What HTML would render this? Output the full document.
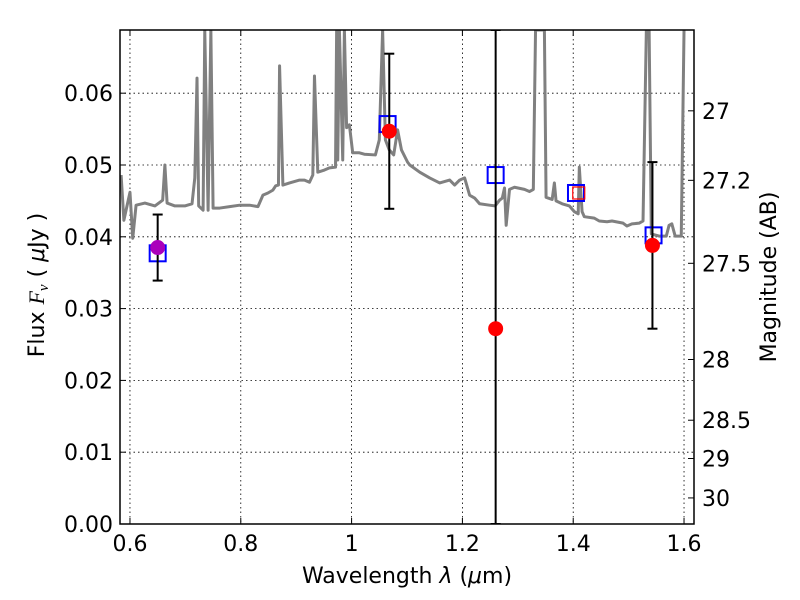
<!DOCTYPE html>
<html><head><meta charset="utf-8"><style>
html,body{margin:0;padding:0;background:#fff;overflow:hidden;width:800px;height:600px}
svg{display:block}
svg text{font-family:"DejaVu Sans","Liberation Sans",sans-serif;fill:#000}
</style></head><body>
<svg id="c" width="800" height="600"></svg>
<script>
const specLam=[0.584,0.589,0.600,0.605,0.611,0.627,0.645,0.659,0.663,0.667,0.681,0.699,0.712,0.717,0.721,0.724,0.732,0.735,0.741,0.746,0.750,0.762,0.780,0.798,0.816,0.831,0.840,0.849,0.858,0.863,0.868,0.870,0.876,0.888,0.906,0.915,0.924,0.930,0.933,0.939,0.951,0.960,0.971,0.973,0.975,0.978,0.984,0.987,0.991,0.996,1.002,1.014,1.023,1.043,1.050,1.056,1.061,1.068,1.076,1.083,1.090,1.101,1.105,1.123,1.141,1.159,1.177,1.186,1.195,1.204,1.213,1.222,1.231,1.249,1.259,1.267,1.272,1.276,1.279,1.285,1.294,1.312,1.321,1.328,1.332,1.348,1.351,1.362,1.366,1.369,1.380,1.393,1.402,1.409,1.411,1.416,1.420,1.438,1.447,1.461,1.470,1.490,1.497,1.506,1.519,1.526,1.532,1.537,1.541,1.555,1.568,1.573,1.578,1.584,1.595,1.600];
const specFlux=[0.0486,0.0423,0.0462,0.0398,0.0444,0.0447,0.0443,0.0451,0.0500,0.0447,0.0443,0.0443,0.0446,0.0482,0.0621,0.0443,0.0437,0.1,0.0437,0.1,0.0440,0.0440,0.0442,0.0444,0.0444,0.0442,0.0458,0.0461,0.0465,0.0471,0.0472,0.0638,0.0472,0.0475,0.0479,0.0479,0.0476,0.0486,0.0624,0.0490,0.0493,0.0496,0.0497,0.1,0.0507,0.1,0.0507,0.1,0.0552,0.0556,0.0517,0.0517,0.0515,0.0514,0.0535,0.1,0.0535,0.0521,0.0514,0.0549,0.0521,0.0504,0.0500,0.0490,0.0482,0.0475,0.0479,0.0472,0.0479,0.0482,0.0458,0.0454,0.0446,0.0444,0.0443,0.0451,0.0454,0.0468,0.0416,0.0466,0.0469,0.0466,0.0463,0.0466,0.1,0.1,0.0455,0.0452,0.0475,0.0450,0.0446,0.0443,0.0435,0.0432,0.0497,0.0435,0.0428,0.0426,0.0422,0.0421,0.0422,0.0419,0.0415,0.0418,0.0419,0.0422,0.1,0.1,0.0404,0.0401,0.0401,0.0416,0.0418,0.0401,0.0401,0.1];
const obsLam=[0.65,1.068,1.26,1.543];
const obsFlux=[0.0385,0.0547,0.0272,0.0388];
const obsErr=[0.0046,0.0108,0.2,0.0116];
const obsColor=['#aa00bb','red','red','red'];
const modLam=[0.65,1.065,1.26,1.405,1.545];
const modFlux=[0.0377,0.0557,0.0486,0.0461,0.0402];
const xTicks=[0.6,0.8,1.0,1.2,1.4,1.6];
const xTickLabels=['0.6','0.8','1','1.2','1.4','1.6'];
const yTicks=[0,0.01,0.02,0.03,0.04,0.05,0.06];
const magTicks=[27,27.2,27.5,28,28.5,29,30];

const L=120,R=694,T=30,B=524;
const xmin=0.582,xmax=1.618,ymin=0,ymax=0.0688;
const X=v=>L+(v-xmin)/(xmax-xmin)*(R-L);
const Y=v=>B-(v-ymin)/(ymax-ymin)*(B-T);
const clampY=y=>Math.max(T,Math.min(B,y));
const svg=document.getElementById('c');
const NS='http://www.w3.org/2000/svg';
function el(t,a,p){const e=document.createElementNS(NS,t);for(const k in a)e.setAttribute(k,a[k]);(p||svg).appendChild(e);return e;}
const defs=el('defs',{});const cp=el('clipPath',{id:'clip'},defs);el('rect',{x:L,y:T,width:R-L,height:B-T},cp);
const grid=el('g',{});


xTicks.forEach((v,i)=>{
 const x=X(v);
 el('line',{x1:x,y1:T,x2:x,y2:B,stroke:'#000','stroke-dasharray':'1.5,3','stroke-width':0.8},grid);
 el('line',{x1:x,y1:B,x2:x,y2:B-6,stroke:'#000'});el('line',{x1:x,y1:T,x2:x,y2:T+6,stroke:'#000'});
 const t=el('text',{x:x,y:B+27,'text-anchor':'middle','font-size':22});t.textContent=xTickLabels[i];
 
 
});
yTicks.forEach(v=>{
 const y=Y(v);
 if(v>0)el('line',{x1:L,y1:y,x2:R,y2:y,stroke:'#000','stroke-dasharray':'1.5,3','stroke-width':0.8},grid);
 el('line',{x1:L,y1:y,x2:L+6,y2:y,stroke:'#000'});
 const t=el('text',{x:L-7,y:y+8,'text-anchor':'end','font-size':22});t.textContent=v.toFixed(2);
 
 
});
magTicks.forEach(m=>{
 const f=Math.pow(10,(23.9-m)/2.5);const y=Y(f);
 el('line',{x1:R,y1:y,x2:R-6,y2:y,stroke:'#000'});
 const t=el('text',{x:R+8,y:y+8,'font-size':22});t.textContent=String(m);
 
 
});
const g=el('g',{'clip-path':'url(#clip)'});
const sp=el('polyline',{points:specLam.map((l,i)=>X(l)+','+clampY(Y(specFlux[i])-0)).join(' '),fill:'none',stroke:'#808080','stroke-width':3,'stroke-linejoin':'round'},g);


modLam.forEach((l,i)=>{
 const r=el('rect',{x:X(l)-8,y:Y(modFlux[i])-8,width:16,height:16,fill:'none',stroke:'#0000ff','stroke-width':2},g);
 
 
});
const rs=el('rect',{x:X(1.41)-6,y:Y(0.0461)-6,width:12,height:12,fill:'none',stroke:'red','stroke-width':1.2},g);


obsLam.forEach((l,i)=>{
 const x=X(l),y1=clampY(Y(obsFlux[i]+obsErr[i])),y2=clampY(Y(obsFlux[i]-obsErr[i]));
 el('line',{x1:x,y1:y1,x2:x,y2:y2,stroke:'#000','stroke-width':2},g);
 el('line',{x1:x-5,y1:y1,x2:x+5,y2:y1,stroke:'#000','stroke-width':2},g);
 el('line',{x1:x-5,y1:y2,x2:x+5,y2:y2,stroke:'#000','stroke-width':2},g);
 const c=el('circle',{cx:x,cy:Y(obsFlux[i]),r:7.5,fill:obsColor[i]},g);
 
 
});
el('rect',{x:L,y:T,width:R-L,height:B-T,fill:'none',stroke:'#000','stroke-width':1.5});
let t=el('text',{x:(L+R)/2,y:583,'text-anchor':'middle','font-size':22});t.innerHTML='Wavelength  <tspan font-style="italic">λ</tspan> (<tspan font-style="italic">μ</tspan>m)';


t=el('text',{x:0,y:0,'text-anchor':'middle','font-size':22,transform:'translate(44,'+((T+B)/2+8)+') rotate(-90)'});t.innerHTML='Flux  <tspan font-style="italic" font-family="Liberation Serif">F<tspan font-size="15" dy="4">ν</tspan></tspan><tspan dy="-4">  ( </tspan><tspan font-style="italic">μ</tspan>Jy )';


t=el('text',{x:0,y:0,'text-anchor':'middle','font-size':22,transform:'translate(776,'+(T+B)/2+') rotate(-90)'});t.textContent='Magnitude (AB)';


</script>
</body></html>
